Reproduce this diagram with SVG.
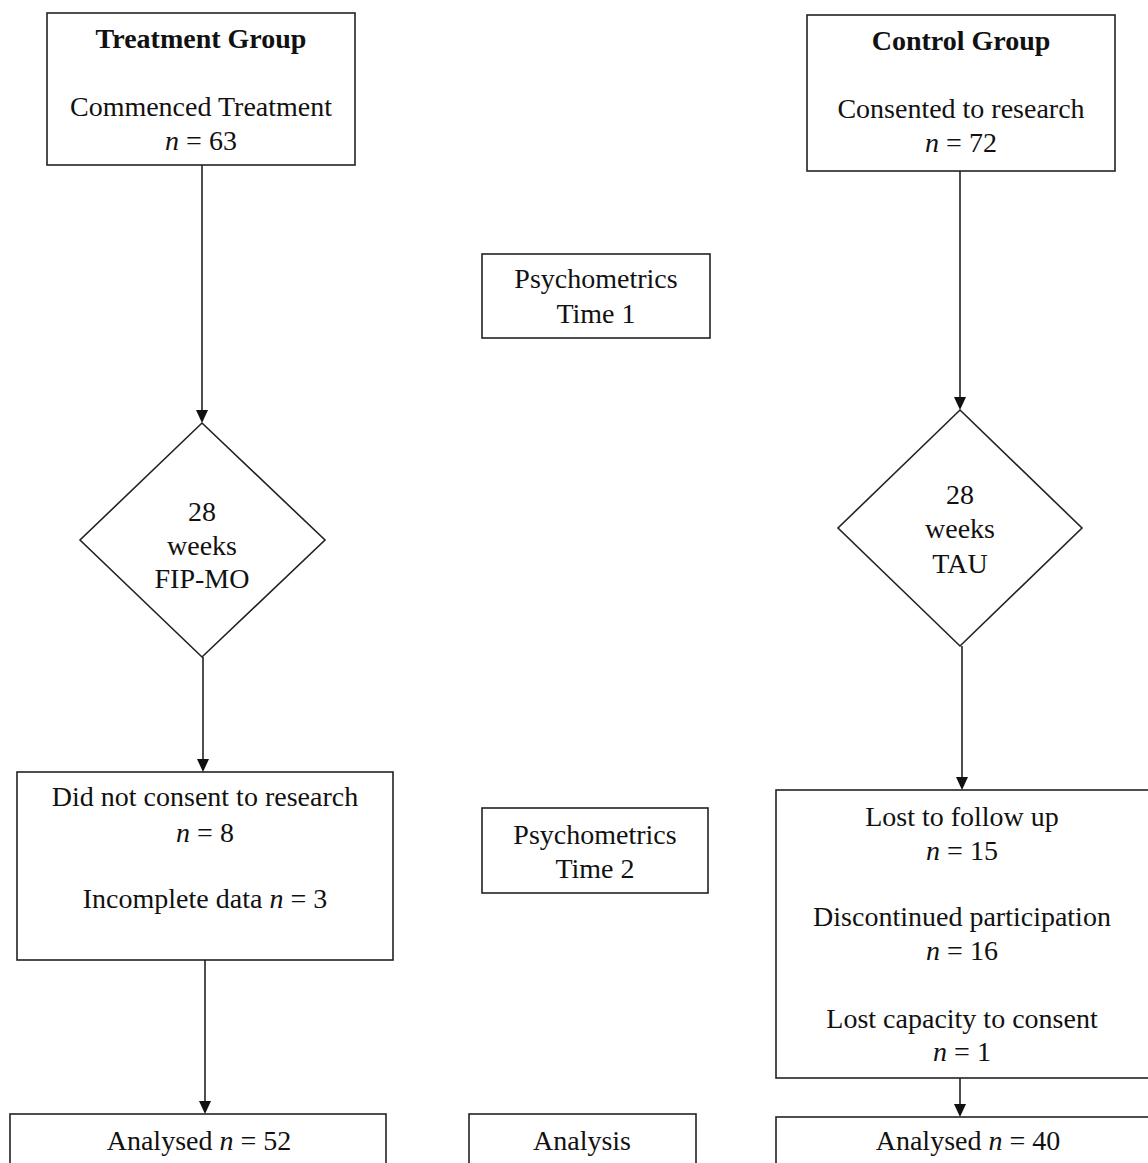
<svg xmlns="http://www.w3.org/2000/svg" width="1148" height="1163" viewBox="0 0 1148 1163">
<style>
.box{fill:#fff;stroke:#222;stroke-width:1.6}
.t{font-family:"Liberation Serif","Times New Roman",serif;font-size:28px;fill:#111;text-anchor:middle}
.b{font-weight:bold}
.i{font-style:italic}
.c{stroke:#222;stroke-width:1.6;fill:none}
.h{fill:#111}
</style>
<rect width="1148" height="1163" fill="#fff"/>
<g id="connectors">
<path class="c" d="M202,165 L202,410" />
<path class="h" d="M196,410 L208,410 L202,423 Z"/>
<path class="c" d="M203,657 L203,759" />
<path class="h" d="M197,759 L209,759 L203,772 Z"/>
<path class="c" d="M205,960 L205,1101" />
<path class="h" d="M199,1101 L211,1101 L205,1114 Z"/>
<path class="c" d="M960,171 L960,397" />
<path class="h" d="M954,397 L966,397 L960,410 Z"/>
<path class="c" d="M962,646 L962,777" />
<path class="h" d="M956,777 L968,777 L962,790 Z"/>
<path class="c" d="M960,1078 L960,1104" />
<path class="h" d="M954,1104 L966,1104 L960,1117 Z"/>
</g>
<g id="treatment">
<rect class="box" x="47" y="13" width="308" height="152"/>
<text class="t b" x="201" y="48">Treatment Group</text>
<text class="t" x="201" y="116">Commenced Treatment</text>
<text class="t" x="201" y="150"><tspan class="i">n</tspan> = 63</text>
</g>
<g id="control">
<rect class="box" x="807" y="15" width="308" height="156"/>
<text class="t b" x="961" y="50">Control Group</text>
<text class="t" x="961" y="118">Consented to research</text>
<text class="t" x="961" y="152"><tspan class="i">n</tspan> = 72</text>
</g>
<g id="psych1">
<rect class="box" x="482" y="254" width="228" height="84"/>
<text class="t" x="596" y="288">Psychometrics</text>
<text class="t" x="596" y="323">Time 1</text>
</g>
<g id="diamond-left">
<polygon class="box" points="202,423 325,540 202,657 80,540"/>
<text class="t" x="202" y="521">28</text>
<text class="t" x="202" y="555">weeks</text>
<text class="t" x="202" y="588">FIP-MO</text>
</g>
<g id="diamond-right">
<polygon class="box" points="960,410 1082,528 960,646 838,528"/>
<text class="t" x="960" y="504">28</text>
<text class="t" x="960" y="538">weeks</text>
<text class="t" x="960" y="573">TAU</text>
</g>
<g id="excluded-left">
<rect class="box" x="17" y="772" width="376" height="188"/>
<text class="t" x="205" y="806">Did not consent to research</text>
<text class="t" x="205" y="842"><tspan class="i">n</tspan> = 8</text>
<text class="t" x="205" y="908">Incomplete data <tspan class="i">n</tspan> = 3</text>
</g>
<g id="psych2">
<rect class="box" x="482" y="808" width="226" height="85"/>
<text class="t" x="595" y="844">Psychometrics</text>
<text class="t" x="595" y="878">Time 2</text>
</g>
<g id="excluded-right">
<rect class="box" x="776" y="790" width="380" height="288"/>
<text class="t" x="962" y="826">Lost to follow up</text>
<text class="t" x="962" y="860"><tspan class="i">n</tspan> = 15</text>
<text class="t" x="962" y="926">Discontinued participation</text>
<text class="t" x="962" y="960"><tspan class="i">n</tspan> = 16</text>
<text class="t" x="962" y="1028">Lost capacity to consent</text>
<text class="t" x="962" y="1061"><tspan class="i">n</tspan> = 1</text>
</g>
<g id="analysed-left">
<rect class="box" x="10" y="1114" width="376" height="60"/>
<text class="t" x="199" y="1150">Analysed <tspan class="i">n</tspan> = 52</text>
</g>
<g id="analysis">
<rect class="box" x="469" y="1114" width="227" height="60"/>
<text class="t" x="582" y="1150">Analysis</text>
</g>
<g id="analysed-right">
<rect class="box" x="776" y="1117" width="380" height="60"/>
<text class="t" x="968" y="1150">Analysed <tspan class="i">n</tspan> = 40</text>
</g>
</svg>
